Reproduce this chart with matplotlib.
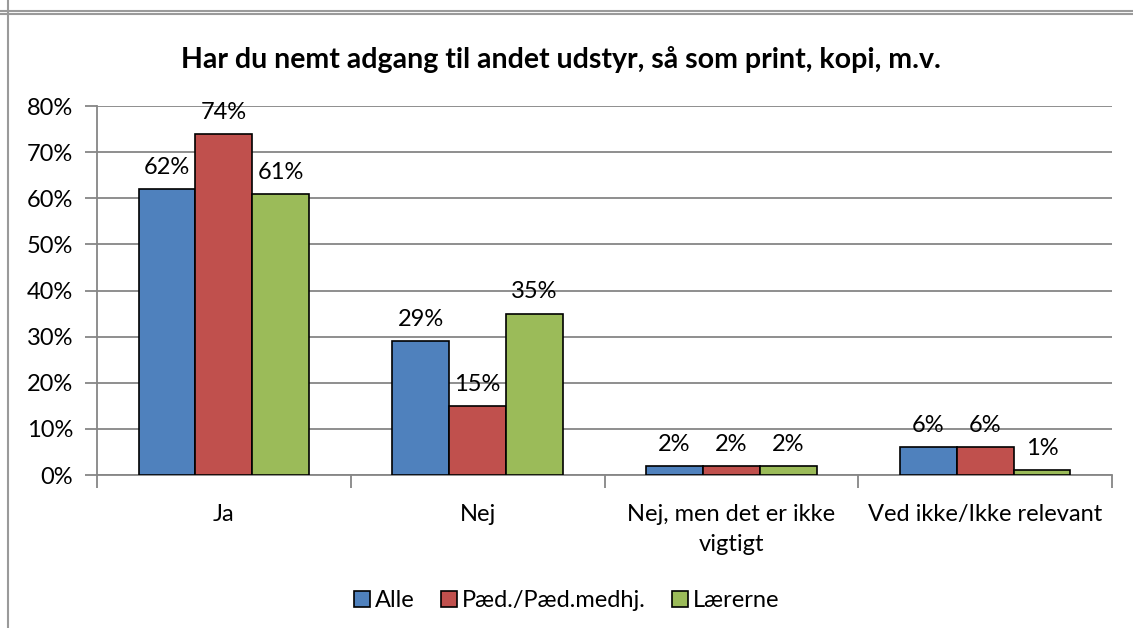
import matplotlib.pyplot as plt
import numpy as np
from matplotlib.lines import Line2D

categories = ["Ja", "Nej", "Nej, men det er ikke\nvigtigt", "Ved ikke/Ikke relevant"]
series_names = ["Alle", "Pæd./Pæd.medhj.", "Lærerne"]
alle = [62, 29, 2, 6]
paed = [74, 15, 2, 6]
laererne = [61, 35, 2, 1]
colors = ["#4F81BD", "#C0504D", "#9BBB59"]

plt.rcParams["font.family"] = ["Lato", "DejaVu Sans"]

fig = plt.figure(figsize=(11.33, 6.28), dpi=100)
ax = fig.add_axes([0.0856, 0.2436, 0.8959, 0.5876])

x = np.arange(len(categories))
width = 0.224
for i, (vals, name) in enumerate(zip([alle, paed, laererne], series_names)):
    pos = x + (i - 1) * width
    ax.bar(pos, vals, width, color=colors[i], edgecolor="black",
           linewidth=1.2, label=name, zorder=3)
    for p, v in zip(pos, vals):
        ax.annotate(f"{v}%", (p, v), xytext=(0, 8), textcoords="offset points",
                    ha="center", va="bottom", fontsize=17, zorder=4)

ax.set_xlim(-0.5, len(categories) - 0.5)
ax.set_ylim(0, 80)
ax.set_yticks(range(0, 81, 10))
ax.set_yticklabels([f"{t}%" for t in range(0, 81, 10)], fontsize=17)
ax.yaxis.grid(True, color="#868686", linewidth=1.3, zorder=0)

ax.set_xticks(x)
ax.set_xticklabels(categories, fontsize=17, linespacing=1.5)
ax.tick_params(axis="x", length=0, pad=21)
ax.set_xticks(np.arange(-0.5, len(categories)), minor=True)
ax.tick_params(axis="x", which="minor", length=9, width=1.3, color="#868686")
ax.tick_params(axis="y", length=9, width=1.3, color="#868686", pad=8)

for s in ["top", "right"]:
    ax.spines[s].set_visible(False)
for s in ["left", "bottom"]:
    ax.spines[s].set_color("#868686")
    ax.spines[s].set_linewidth(1.3)

fig.text(0.495, 0.905, "Har du nemt adgang til andet udstyr, så som print, kopi, m.v.",
         ha="center", va="center", fontsize=20.5, fontweight="bold")

handles = [plt.Rectangle((0, 0), 1, 1, facecolor=c, edgecolor="black", linewidth=1.2)
           for c in colors]
fig.legend(handles, series_names, loc="center", bbox_to_anchor=(0.5, 0.043),
           ncol=3, frameon=False, fontsize=17, handlelength=0.7, handleheight=0.7,
           handletextpad=0.2, columnspacing=1.1)

# outer frame lines of the screenshot
fig.add_artist(Line2D([0, 1], [1 - 11 / 628, 1 - 11 / 628], color="#9a9a9a", linewidth=1.5))
fig.add_artist(Line2D([0, 1], [1 - 14 / 628, 1 - 14 / 628], color="#9a9a9a", linewidth=1.5))
fig.add_artist(Line2D([8 / 1133, 8 / 1133], [0, 1], color="#9a9a9a", linewidth=1.5))

fig.savefig("out.png", dpi=100)
